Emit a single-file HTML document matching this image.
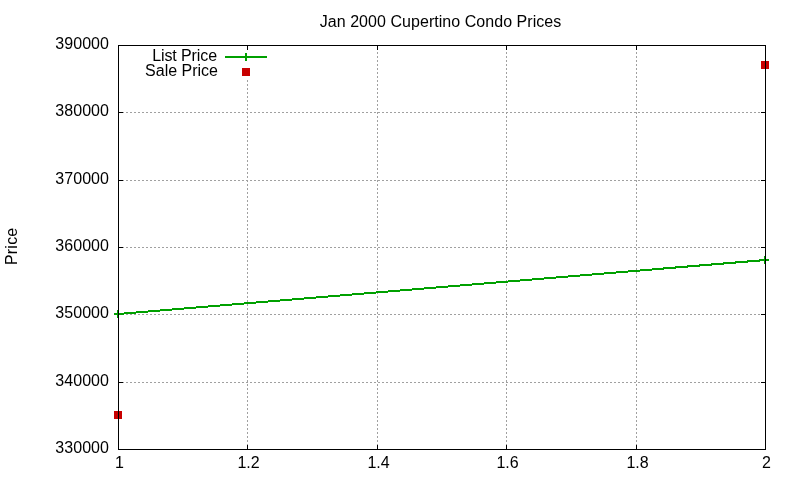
<!DOCTYPE html>
<html><head><meta charset="utf-8"><title>Jan 2000 Cupertino Condo Prices</title>
<style>
html,body{margin:0;padding:0;background:#fff;}
svg{display:block;}
text{font-family:"Liberation Sans",Arial,sans-serif;font-size:16px;fill:#000;}
</style></head><body>
<svg width="800" height="480" viewBox="0 0 800 480">
<rect x="0" y="0" width="800" height="480" fill="#fff"/>

<g stroke="#a0a0a0" stroke-width="1" stroke-dasharray="2 2" shape-rendering="crispEdges">
<line x1="118" y1="382.5" x2="765" y2="382.5"/>
<line x1="118" y1="314.5" x2="765" y2="314.5"/>
<line x1="118" y1="247.5" x2="765" y2="247.5"/>
<line x1="118" y1="180.5" x2="765" y2="180.5"/>
<line x1="118" y1="112.5" x2="765" y2="112.5"/>
<line x1="247.5" y1="450" x2="247.5" y2="80"/>
<line x1="377.5" y1="450" x2="377.5" y2="45"/>
<line x1="506.5" y1="450" x2="506.5" y2="45"/>
<line x1="636.5" y1="450" x2="636.5" y2="45"/>
</g>
<g stroke="#000" stroke-width="1" shape-rendering="crispEdges">
<line x1="118" y1="382.5" x2="123" y2="382.5"/>
<line x1="761" y1="382.5" x2="766" y2="382.5"/>
<line x1="118" y1="314.5" x2="123" y2="314.5"/>
<line x1="761" y1="314.5" x2="766" y2="314.5"/>
<line x1="118" y1="247.5" x2="123" y2="247.5"/>
<line x1="761" y1="247.5" x2="766" y2="247.5"/>
<line x1="118" y1="180.5" x2="123" y2="180.5"/>
<line x1="761" y1="180.5" x2="766" y2="180.5"/>
<line x1="118" y1="112.5" x2="123" y2="112.5"/>
<line x1="761" y1="112.5" x2="766" y2="112.5"/>
<line x1="247.5" y1="45" x2="247.5" y2="50"/>
<line x1="247.5" y1="445" x2="247.5" y2="450"/>
<line x1="377.5" y1="45" x2="377.5" y2="50"/>
<line x1="377.5" y1="445" x2="377.5" y2="450"/>
<line x1="506.5" y1="45" x2="506.5" y2="50"/>
<line x1="506.5" y1="445" x2="506.5" y2="450"/>
<line x1="636.5" y1="45" x2="636.5" y2="50"/>
<line x1="636.5" y1="445" x2="636.5" y2="450"/>
</g>
<text x="109" y="453" text-anchor="end" textLength="53.8" lengthAdjust="spacing">330000</text>
<text x="109" y="386" text-anchor="end" textLength="53.8" lengthAdjust="spacing">340000</text>
<text x="109" y="318" text-anchor="end" textLength="53.8" lengthAdjust="spacing">350000</text>
<text x="109" y="251" text-anchor="end" textLength="53.8" lengthAdjust="spacing">360000</text>
<text x="109" y="184" text-anchor="end" textLength="53.8" lengthAdjust="spacing">370000</text>
<text x="109" y="116" text-anchor="end" textLength="53.8" lengthAdjust="spacing">380000</text>
<text x="109" y="49" text-anchor="end" textLength="53.8" lengthAdjust="spacing">390000</text>
<text x="119.5" y="468" text-anchor="middle">1</text>
<text x="248.5" y="468" text-anchor="middle">1.2</text>
<text x="378.5" y="468" text-anchor="middle">1.4</text>
<text x="507.5" y="468" text-anchor="middle">1.6</text>
<text x="637.5" y="468" text-anchor="middle">1.8</text>
<text x="766.5" y="468" text-anchor="middle">2</text>
<text x="440.5" y="26.5" text-anchor="middle" textLength="241.5" lengthAdjust="spacing">Jan 2000 Cupertino Condo Prices</text>
<text transform="translate(17,246.4) rotate(-90)" text-anchor="middle" textLength="37.3" lengthAdjust="spacing">Price</text>
<text x="217.1" y="60.5" text-anchor="end" textLength="64.9" lengthAdjust="spacing">List Price</text>
<text x="218" y="75.5" text-anchor="end">Sale Price</text>
<g stroke="#00a000" stroke-width="2" shape-rendering="crispEdges" fill="none">
<line x1="225" y1="57" x2="267" y2="57"/>
<line x1="246" y1="53" x2="246" y2="61"/>
<line x1="118.5" y1="314" x2="765.5" y2="260"/>
<line x1="114" y1="314" x2="122" y2="314"/><line x1="118" y1="310" x2="118" y2="318"/>
<line x1="761" y1="260" x2="769" y2="260"/><line x1="765" y1="256" x2="765" y2="264"/>
</g>
<g fill="#c80000" shape-rendering="crispEdges">
<rect x="242" y="68" width="8" height="8"/>
<rect x="114" y="411" width="8" height="8"/>
<rect x="761" y="61" width="8" height="8"/>
</g>
<rect x="118.5" y="45.5" width="647" height="404" fill="none" stroke="#000" stroke-width="1" shape-rendering="crispEdges"/>
</svg></body></html>
